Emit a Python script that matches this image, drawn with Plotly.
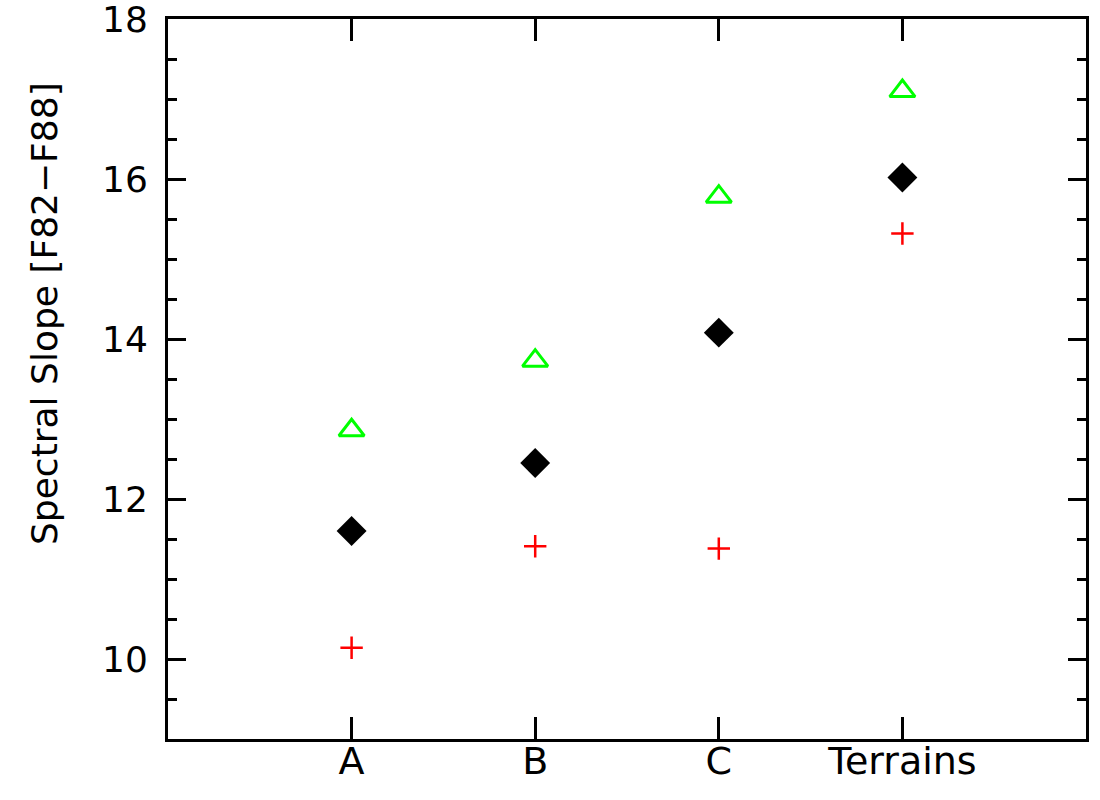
import plotly.graph_objects as go

categories = ["A", "B", "C", "Terrains"]
cat_pos = [1, 2, 3, 4]
mean_vals = [11.60, 12.45, 14.08, 16.02]
upper_vals = [12.86, 13.73, 15.78, 17.10]
lower_vals = [10.14, 11.41, 11.38, 15.32]
y_tick_vals = [10, 12, 14, 16, 18]

FONT = "DejaVu Sans"

fig = go.Figure()
fig.add_trace(go.Scatter(
    x=cat_pos, y=upper_vals, mode="markers",
    marker=dict(symbol="triangle-up-open", size=22, color="#00ff00",
                line=dict(color="#00ff00", width=3)),
    showlegend=False, cliponaxis=False))
fig.add_trace(go.Scatter(
    x=cat_pos, y=mean_vals, mode="markers",
    marker=dict(symbol="diamond", size=23, color="black",
                line=dict(width=0)),
    showlegend=False, cliponaxis=False))
fig.add_trace(go.Scatter(
    x=cat_pos, y=lower_vals, mode="markers",
    marker=dict(symbol="cross-thin-open", size=16, color="#ff0000",
                line=dict(color="#ff0000", width=2.5)),
    showlegend=False, cliponaxis=False))

fig.update_layout(
    width=1100, height=800,
    margin=dict(l=168, r=14, t=19, b=61, autoexpand=False),
    paper_bgcolor="white", plot_bgcolor="white",
    font=dict(family=FONT, size=36, color="black"),
    xaxis=dict(
        range=[0, 5], tickvals=cat_pos, ticktext=categories,
        ticks="inside", ticklen=22, tickwidth=3, tickcolor="black",
        showline=True, linewidth=3, linecolor="black", mirror="allticks",
        showgrid=False, zeroline=False, automargin=False,
        ticklabelstandoff=-14,
        tickfont=dict(family=FONT, size=38, color="black"),
    ),
    yaxis=dict(
        range=[9, 18.001], tickvals=y_tick_vals,
        ticks="inside", ticklen=18, tickwidth=3, tickcolor="black",
        minor=dict(dtick=0.5, tick0=0, ticks="inside", ticklen=9,
                   tickwidth=3, tickcolor="black", showgrid=False),
        showline=True, linewidth=3, linecolor="black", mirror="allticks",
        showgrid=False, zeroline=False, automargin=False,
        ticklabelstandoff=10, ticklabeloverflow="allow",
        tickfont=dict(family=FONT, size=36, color="black"),
    ),
    annotations=[dict(
        text="Spectral Slope [F82\u2212F88]", textangle=-90,
        xref="paper", yref="paper", x=(44 - 168) / 918, y=(739 - 314) / 720,
        xanchor="center", yanchor="middle", showarrow=False,
        font=dict(family=FONT, size=36, color="black"),
    )],
)

fig.write_html(
    "out.html",
    config={"displayModeBar": False},
    post_script="document.body.style.margin='0';document.body.style.padding='0';",
)
